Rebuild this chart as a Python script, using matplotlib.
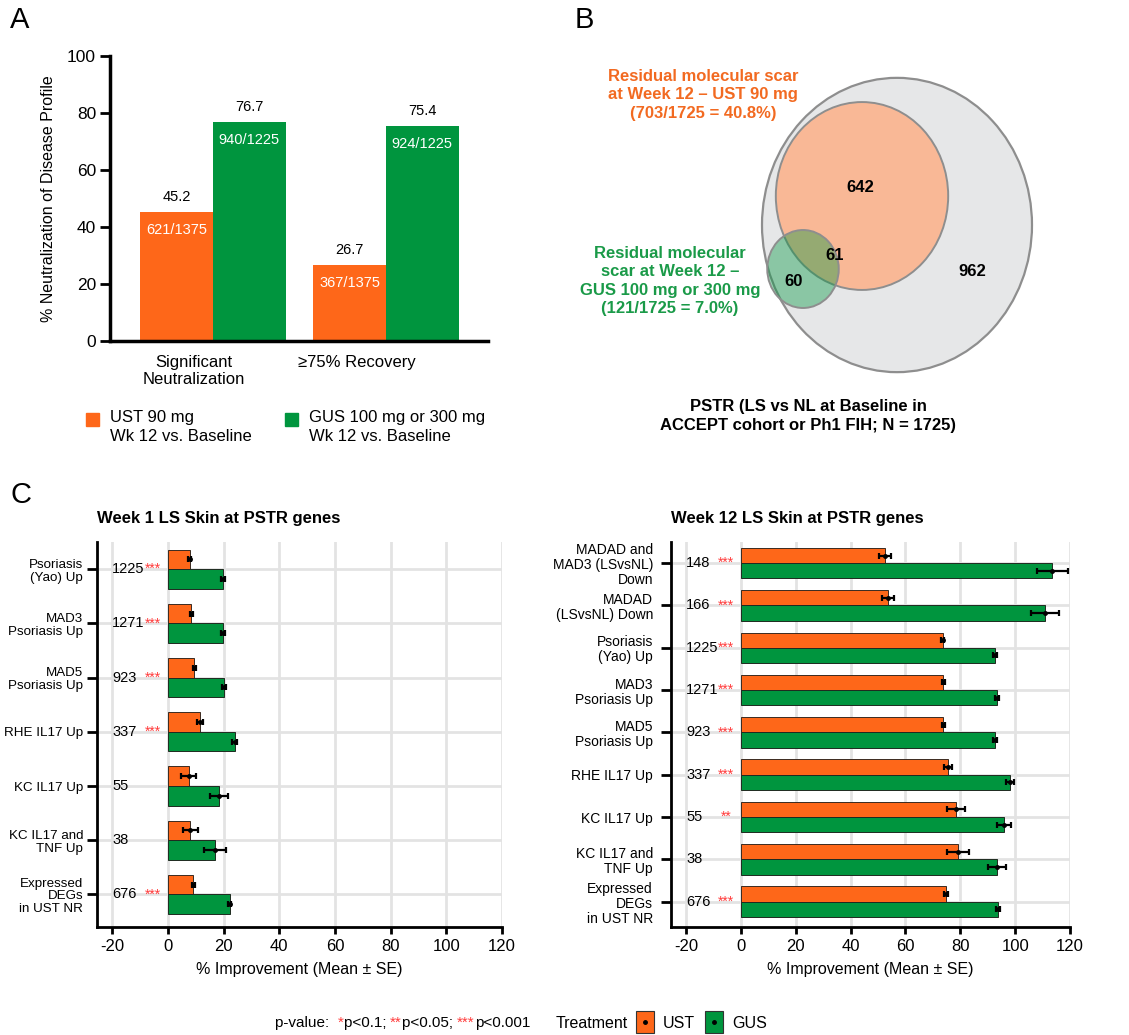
import matplotlib
matplotlib.use('Agg')
import matplotlib.pyplot as plt
from matplotlib.patches import Ellipse, Rectangle
import numpy as np

plt.rcParams['font.family'] = ['Liberation Sans', 'DejaVu Sans']
plt.rcParams['axes.unicode_minus'] = False

W, H = 1129, 1035
ORANGE = '#FE6719'
GREEN = '#00953E'
STAR_RED = '#FF3B3B'

# ---- panel A data
a_groups = ['Significant\nNeutralization', '≥75% Recovery']
a_ust = [45.2, 26.7]
a_gus = [76.7, 75.4]
a_ust_frac = ['621/1375', '367/1375']
a_gus_frac = ['940/1225', '924/1225']

# ---- panel B data (gene counts)
venn_total = 1725
venn_ust = 703
venn_gus = 121
venn_ust_only = 642
venn_both = 61
venn_gus_only = 60
venn_rest = 962

# ---- panel C data, week 1
w1_labels = ['Psoriasis\n(Yao) Up', 'MAD3\nPsoriasis Up', 'MAD5\nPsoriasis Up', 'RHE IL17 Up',
             'KC IL17 Up', 'KC IL17 and\nTNF Up', 'Expressed\nDEGs\nin UST NR']
w1_counts = [1225, 1271, 923, 337, 55, 38, 676]
w1_stars = ['***', '***', '***', '***', '', '', '***']
w1_ust = [7.8, 8.4, 9.5, 11.6, 7.4, 8.0, 9.1]
w1_ust_se = [0.5, 0.5, 0.6, 1.1, 2.6, 2.7, 0.6]
w1_gus = [19.9, 19.9, 20.2, 24.0, 18.2, 16.9, 22.2]
w1_gus_se = [0.7, 0.7, 0.8, 0.9, 3.2, 4.0, 0.6]

# ---- panel C data, week 12
w12_labels = ['MADAD and\nMAD3 (LSvsNL)\nDown', 'MADAD\n(LSvsNL) Down', 'Psoriasis\n(Yao) Up',
              'MAD3\nPsoriasis Up', 'MAD5\nPsoriasis Up', 'RHE IL17 Up', 'KC IL17 Up',
              'KC IL17 and\nTNF Up', 'Expressed\nDEGs\nin UST NR']
w12_counts = [148, 166, 1225, 1271, 923, 337, 55, 38, 676]
w12_stars = ['***', '***', '***', '***', '***', '***', '**', '', '***']
w12_ust = [52.5, 53.6, 73.6, 73.8, 73.8, 75.5, 78.4, 79.0, 74.8]
w12_ust_se = [2.2, 2.1, 0.5, 0.5, 0.6, 1.3, 3.2, 4.0, 0.6]
w12_gus = [113.6, 110.9, 92.6, 93.4, 92.6, 98.1, 96.0, 93.3, 93.6]
w12_gus_se = [5.5, 5.2, 0.8, 0.8, 0.8, 1.5, 2.5, 3.3, 0.7]

fig = plt.figure(figsize=(W / 100, H / 100), dpi=100)


def px_axes(left, top, right, bottom):
    return fig.add_axes([left / W, 1 - bottom / H, (right - left) / W, (bottom - top) / H])


# overlay in pixel coordinates for letters, venn and legends
ov = px_axes(0, 0, W, H)
ov.set_xlim(0, W)
ov.set_ylim(H, 0)
ov.axis('off')

for letter, (lx, ly) in {'A': (20, 20), 'B': (584, 20), 'C': (21, 495)}.items():
    ov.text(lx, ly, letter, fontsize=21, ha='center', va='center')

# ---------------- panel A
axA = px_axes(110, 56, 488, 341)
x = np.arange(len(a_groups))
bw = 0.42
axA.bar(x - bw / 2, a_ust, bw, color=ORANGE)
axA.bar(x + bw / 2, a_gus, bw, color=GREEN)
for xs, vals, fracs in [(x - bw / 2, a_ust, a_ust_frac), (x + bw / 2, a_gus, a_gus_frac)]:
    for xi, v, f in zip(xs, vals, fracs):
        axA.annotate(f'{v:.1f}', (xi, v), xytext=(0, 11), textcoords='offset points',
                     ha='center', va='center', fontsize=10.5)
        axA.annotate(f, (xi, v), xytext=(0, -13), textcoords='offset points',
                     ha='center', va='center', fontsize=10.5, color='white')
axA.set_xlim(-0.595, 1.59)
axA.set_ylim(0, 100)
axA.set_yticks(range(0, 101, 20))
axA.set_xticks(x - np.array([0.11, 0.17]))
axA.set_xticklabels(a_groups)
axA.set_ylabel('% Neutralization of Disease Profile', fontsize=11.5, labelpad=8)
axA.spines[['top', 'right']].set_visible(False)
for s in ['left', 'bottom']:
    axA.spines[s].set_linewidth(2.5)
axA.tick_params(axis='y', length=7, width=2, labelsize=12.5, pad=3)
axA.tick_params(axis='x', length=0, labelsize=12, pad=10)

# legend for A
for lx, col, lab in [(86, ORANGE, 'UST 90 mg\nWk 12 vs. Baseline'),
                     (285, GREEN, 'GUS 100 mg or 300 mg\nWk 12 vs. Baseline')]:
    ov.add_patch(Rectangle((lx, 413), 13, 13, color=col))
    ov.text(lx + 24, 410, lab, fontsize=12, ha='left', va='top', linespacing=1.3)

# ---------------- panel B (venn, areas proportional to counts)
R = 135
stretch = 1.09
big_c = (897, 225)
ust_c = (862, 196)
gus_c = (803, 269)
r_ust = R * np.sqrt(venn_ust / venn_total)
r_gus = R * np.sqrt(venn_gus / venn_total)
ov.add_patch(Ellipse(big_c, 2 * R, 2 * R * stretch, facecolor='#E6E7E8', edgecolor='#8E8E8E', lw=1.6))
ov.add_patch(Ellipse(ust_c, 2 * r_ust, 2 * r_ust * stretch, facecolor='#F9B896', edgecolor='#8E8E8E', lw=1.4))
ov.add_patch(Ellipse(gus_c, 2 * r_gus, 2 * r_gus * stretch, facecolor=GREEN, alpha=0.4, edgecolor='none'))
ov.add_patch(Ellipse(gus_c, 2 * r_gus, 2 * r_gus * stretch, facecolor='none', edgecolor='#8E8E8E', lw=1.4))
for (tx, ty), n in [((860, 188), venn_ust_only), ((835, 256), venn_both),
                    ((794, 282), venn_gus_only), ((972, 271), venn_rest)]:
    ov.text(tx, ty, str(n), fontsize=12, fontweight='bold', ha='center', va='center')
ov.text(703, 95, 'Residual molecular scar\nat Week 12 – UST 90 mg\n(%d/%d = %.1f%%)'
        % (venn_ust, venn_total, 100 * venn_ust / venn_total),
        color='#F26A21', fontsize=12, fontweight='bold', ha='center', va='center', linespacing=1.3)
ov.text(670, 281, 'Residual molecular\nscar at Week 12 –\nGUS 100 mg or 300 mg\n(%d/%d = %.1f%%)'
        % (venn_gus, venn_total, 100 * venn_gus / venn_total),
        color='#1A9A48', fontsize=12, fontweight='bold', ha='center', va='center', linespacing=1.3)
ov.text(808, 416, 'PSTR (LS vs NL at Baseline in\nACCEPT cohort or Ph1 FIH; N = %d)' % venn_total,
        fontsize=12, fontweight='bold', ha='center', va='center', linespacing=1.3)


# ---------------- panel C
def hbar_panel(ax, labels, ust, ust_se, gus, gus_se, counts, stars, title, label_fs, label_pad):
    n = len(labels)
    y = np.arange(n)
    h = 0.36
    ax.barh(y - h / 2, ust, height=h, color=ORANGE, edgecolor='#3a2a20', lw=0.7, zorder=3)
    ax.barh(y + h / 2, gus, height=h, color=GREEN, edgecolor='#1f2a20', lw=0.7, zorder=3)
    for vals, se, yy in [(ust, ust_se, y - h / 2), (gus, gus_se, y + h / 2)]:
        ax.errorbar(vals, yy, xerr=se, fmt='o', color='black', ms=2.5, capsize=2.5,
                    elinewidth=1.6, capthick=1.6, zorder=4)
    for yi, c, s in zip(y, counts, stars):
        ax.text(-20, yi, str(c), ha='left', va='center', fontsize=10.5, zorder=5)
        ax.annotate(s, (-5.5, yi), xytext=(0, 0), textcoords='offset points',
                    ha='center', va='center', color=STAR_RED, fontsize=10, zorder=5)
    ax.set_xlim(-25.5, 120)
    ax.set_ylim(n - 1 + 0.6, -0.5)
    ax.set_xticks(range(-20, 121, 20))
    ax.set_yticks(y)
    ax.set_yticklabels(labels, fontsize=label_fs, linespacing=1.1)
    ax.grid(color='#E3E3E3', lw=2)
    ax.set_axisbelow(True)
    ax.spines[['top', 'right']].set_visible(False)
    for s in ['left', 'bottom']:
        ax.spines[s].set_linewidth(2)
    ax.tick_params(length=5, width=2, labelsize=12)
    ax.tick_params(axis='y', labelsize=label_fs, length=7, pad=label_pad)
    ax.set_title(title, loc='left', fontweight='bold', fontsize=12, pad=14)
    ax.set_xlabel('% Improvement (Mean ± SE)', fontsize=11.5, labelpad=6)


axC1 = px_axes(97, 542, 502, 927)
hbar_panel(axC1, w1_labels, w1_ust, w1_ust_se, w1_gus, w1_gus_se, w1_counts, w1_stars,
           'Week 1 LS Skin at PSTR genes', 9.6, 3)
axC2 = px_axes(671, 542, 1070, 927)
hbar_panel(axC2, w12_labels, w12_ust, w12_ust_se, w12_gus, w12_gus_se, w12_counts, w12_stars,
           'Week 12 LS Skin at PSTR genes', 10, 6)

# ---------------- bottom legend
parts = [('p-value:  ', 'black'), ('*', STAR_RED), ('p<0.1; ', 'black'), ('**', STAR_RED),
         ('p<0.05; ', 'black'), ('***', STAR_RED), ('p<0.001', 'black')]
t = ov.text(275, 1023, parts[0][0], color=parts[0][1], fontsize=11, ha='left', va='center')
for s, c in parts[1:]:
    t = ov.annotate(s, xy=(1, 0), xycoords=t, color=c, fontsize=11, ha='left', va='bottom')
ov.text(556, 1023, 'Treatment', fontsize=11.5, ha='left', va='center')
for bx, col, lab in [(636, ORANGE, 'UST'), (705, GREEN, 'GUS')]:
    ov.add_patch(Rectangle((bx, 1011), 18, 22, facecolor=col, edgecolor='#333333', lw=0.8))
    ov.plot(bx + 9, 1022, 'o', color='black', ms=2.5)
    ov.text(bx + 27, 1023, lab, fontsize=11.5, ha='left', va='center')

fig.savefig('out.png', dpi=100)
